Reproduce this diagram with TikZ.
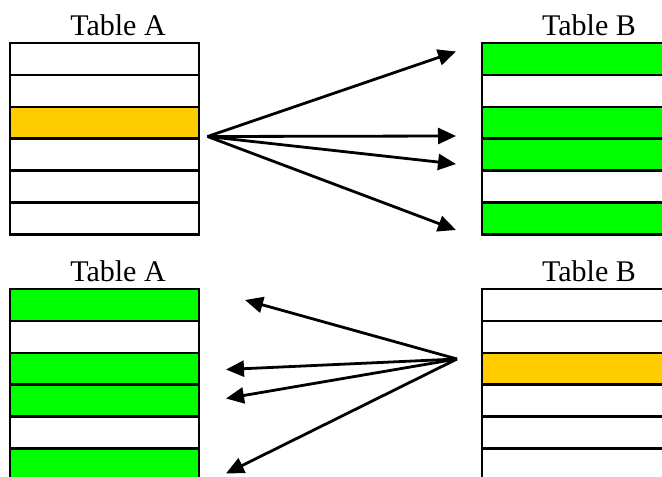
\documentclass[tikz,border=0pt]{standalone}
\usepackage{fontspec}
\setmainfont{Liberation Serif}
\usetikzlibrary{arrows.meta}
\definecolor{hiorange}{HTML}{FFCC00}
\definecolor{higreen}{HTML}{00FF00}
\tikzset{
  rowbox/.style={draw=black, line width=2.6pt, fill=white, anchor=north west,
    minimum width=189pt, minimum height=31.9pt, inner sep=0pt, outer sep=0pt},
  rowboxB/.style={rowbox, minimum width=200pt},
  sel/.style={fill=hiorange},
  hit/.style={fill=higreen},
  tlabel/.style={anchor=base, inner sep=0pt, font=\fontsize{30}{36}\selectfont},
  link/.style={line width=2.8pt, -{Triangle[length=18pt,width=16pt]}, shorten >=0pt}
}
\begin{document}
\begin{tikzpicture}[x=1pt,y=-1pt]
\useasboundingbox (0,0) rectangle (662,477);
\clip (0,0) rectangle (662,477);
% labels
\node[tlabel] (labA1) at (118,35) {Table A};
\node[tlabel] (labB1) at (589,35) {Table B};
\node[tlabel] (labA2) at (118,281) {Table A};
\node[tlabel] (labB2) at (589,281) {Table B};
% top Table A
\node[rowbox] (a1) at (10,43) {};
\node[rowbox] (a2) at (10,74.9) {};
\node[rowbox,sel] (a3) at (10,106.8) {};
\node[rowbox] (a4) at (10,138.7) {};
\node[rowbox] (a5) at (10,170.6) {};
\node[rowbox] (a6) at (10,202.5) {};
% top Table B
\node[rowboxB,hit] (b1) at (482,43) {};
\node[rowboxB] (b2) at (482,74.9) {};
\node[rowboxB,hit] (b3) at (482,106.8) {};
\node[rowboxB,hit] (b4) at (482,138.7) {};
\node[rowboxB] (b5) at (482,170.6) {};
\node[rowboxB,hit] (b6) at (482,202.5) {};
% bottom Table A
\node[rowbox,hit] (c1) at (10,289) {};
\node[rowbox] (c2) at (10,320.9) {};
\node[rowbox,hit] (c3) at (10,352.8) {};
\node[rowbox,hit] (c4) at (10,384.7) {};
\node[rowbox] (c5) at (10,416.6) {};
\node[rowbox,hit] (c6) at (10,448.5) {};
% bottom Table B
\node[rowboxB] (d1) at (482,289) {};
\node[rowboxB] (d2) at (482,320.9) {};
\node[rowboxB,sel] (d3) at (482,352.8) {};
\node[rowboxB] (d4) at (482,384.7) {};
\node[rowboxB] (d5) at (482,416.6) {};
\node[rowboxB] (d6) at (482,448.5) {};
% arrow ends
\coordinate (s1) at (207.5,136.5);
\coordinate (t1) at (456,51.5);
\coordinate (t2) at (456,136);
\coordinate (t3) at (456,164);
\coordinate (t4) at (456,230);
\coordinate (s2) at (457,359);
\coordinate (u1) at (245,300);
\coordinate (u2) at (226,369.5);
\coordinate (u3) at (226,398.5);
\coordinate (u4) at (226,473.5);
\draw[link] (s1) -- (t1);
\draw[link] (s1) -- (t2);
\draw[link] (s1) -- (t3);
\draw[link] (s1) -- (t4);
\draw[link] (s2) -- (u1);
\draw[link] (s2) -- (u2);
\draw[link] (s2) -- (u3);
\draw[link] (s2) -- (u4);
\end{tikzpicture}
\end{document}
